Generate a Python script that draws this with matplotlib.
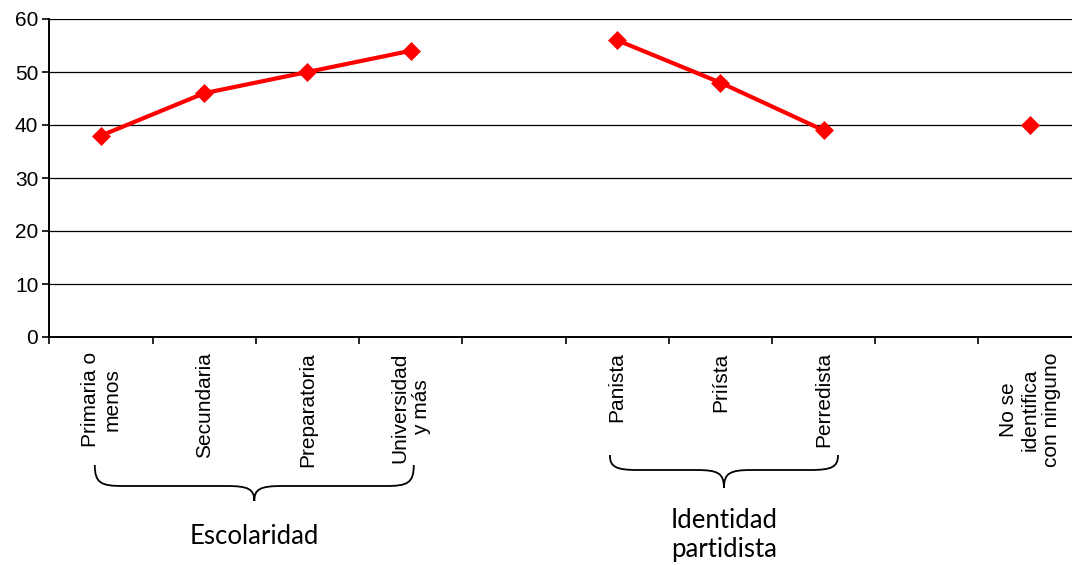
import numpy as np
import matplotlib
matplotlib.use("Agg")
import matplotlib.pyplot as plt
from matplotlib.path import Path
from matplotlib.patches import PathPatch
from matplotlib.transforms import IdentityTransform

# ---- data ----
categories = ["Primaria o\nmenos", "Secundaria", "Preparatoria", "Universidad\ny más", "",
              "Panista", "Priísta", "Perredista", "", "No se\nidentifica\ncon ninguno"]
values = [38, 46, 50, 54, np.nan, 56, 48, 39, np.nan, 40]
y_ticks = [0, 10, 20, 30, 40, 50, 60]
groups = ["Escolaridad", "Identidad\npartidista"]
group_spans = [(0, 3), (5, 7)]

plt.rcParams['font.family'] = ['Liberation Sans', 'DejaVu Sans']

W, H = 1072, 565
fig = plt.figure(figsize=(W / 100, H / 100), dpi=100)
left_px, right_px, top_px, bot_px = 49.4, 1081.6, 19, 337
ax = fig.add_axes([left_px / W, 1 - bot_px / H, (right_px - left_px) / W, (bot_px - top_px) / H])

x = np.arange(len(categories))
ax.plot(x, values, color='#ff0000', lw=3.0, marker='D', markersize=8.8,
        markeredgewidth=0.5, markeredgecolor='#ff0000', clip_on=False, zorder=3)

ax.set_xlim(-0.5, len(categories) - 0.5)
ax.set_ylim(0, 60)
ax.set_yticks(y_ticks)
ax.yaxis.grid(True, color='black', lw=0.9)
ax.set_axisbelow(True)
for s in ['top', 'right']:
    ax.spines[s].set_visible(False)
for s in ['left', 'bottom']:
    ax.spines[s].set_linewidth(1.4)
    ax.spines[s].set_color('black')

ax.tick_params(axis='y', direction='out', length=5, width=1.2, labelsize=15, pad=3)
# boundaries as major ticks, category labels as minor ticks
ax.set_xticks(np.arange(-0.5, len(categories) - 0.5, 1.0))
ax.set_xticklabels([])
ax.tick_params(axis='x', which='major', direction='out', length=5, width=1.2)
ax.set_xticks(x, categories, minor=True)
ax.tick_params(axis='x', which='minor', length=0, pad=11, labelsize=15)
for lab in ax.get_xticklabels(minor=True):
    lab.set_rotation(90)
    lab.set_ha('center')
    lab.set_va('top')
    lab.set_multialignment('center')
    lab.set_linespacing(1.15)

# ---- braces and group labels ----
fig.canvas.draw()

def brace(x0, x1, ytop, yline, ytip, r=28):
    xc = (x0 + x1) / 2
    verts = [(x0, ytop),
             (x0, yline + 3), (x0 + 6, yline), (x0 + r, yline),
             (xc - r, yline),
             (xc - 6, yline), (xc, yline - 3), (xc, ytip),
             (xc, yline - 3), (xc + 6, yline), (xc + r, yline),
             (x1 - r, yline),
             (x1 - 6, yline), (x1, yline + 3), (x1, ytop)]
    codes = [Path.MOVETO,
             Path.CURVE4, Path.CURVE4, Path.CURVE4,
             Path.LINETO,
             Path.CURVE4, Path.CURVE4, Path.CURVE4,
             Path.CURVE4, Path.CURVE4, Path.CURVE4,
             Path.LINETO,
             Path.CURVE4, Path.CURVE4, Path.CURVE4]
    fig.add_artist(PathPatch(Path(verts, codes), transform=IdentityTransform(),
                             fill=False, lw=1.3, ec='black'))

brace_pad = [(0.06, 0.03), (0.07, 0.14)]
brace_y = [(465, 486, 501), (455, 470, 488)]
label_y = [537, 535]
for (a, b), (pl, pr), (yt, yl, ytp), name, ly in zip(group_spans, brace_pad, brace_y, groups, label_y):
    xa = ax.transData.transform((a - pl, 0))[0]
    xb = ax.transData.transform((b + pr, 0))[0]
    brace(xa, xb, H - yt, H - yl, H - ytp)
    xc = (xa + xb) / 2
    fig.text(xc / W, 1 - ly / H, name, ha='center', va='center', fontsize=18.5,
             family=['Lato', 'DejaVu Sans'], linespacing=1.25)

fig.savefig("out.png", dpi=100)
